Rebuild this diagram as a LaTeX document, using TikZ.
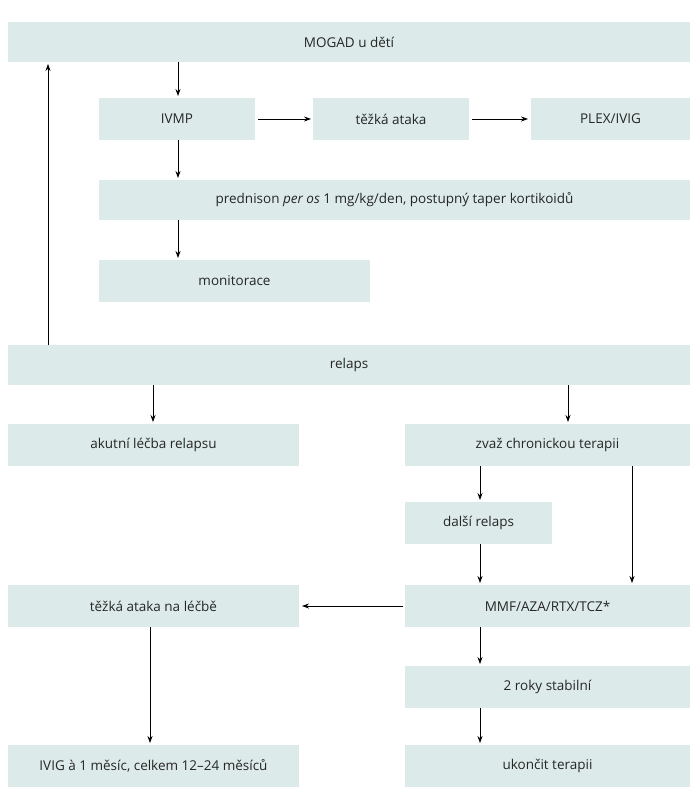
\documentclass[tikz,border=0pt]{standalone}
\usepackage{fontspec}
\setmainfont{Open Sans}
\usetikzlibrary{arrows.meta}
\definecolor{boxc}{HTML}{DCEBEA}
\tikzset{
  bx/.style={fill=boxc,draw=none,inner sep=0pt,font=\fontsize{13.5}{16}\selectfont\color{black!85}},
  ar/.style={-{Stealth[length=7pt,width=5pt]},line width=0.8pt}
}
\newcommand{\bxn}[6]{\node[bx,minimum width={#4-#2},minimum height={#5-#3}] (#1) at ({(#2+#4)/2},{(#3+#5)/2}) {#6};}
\begin{document}
\begin{tikzpicture}[x=1pt,y=-1pt]
\useasboundingbox (0,0) rectangle (698,800);
\bxn{mog}{8}{22}{690}{62}{MOGAD u dětí}
\bxn{ivmp}{99}{98}{255}{140}{IVMP}
\bxn{ta}{313}{98}{469}{140}{těžká ataka}
\bxn{plex}{531}{98}{690}{140}{PLEX/IVIG}
\bxn{pred}{99}{180}{690}{220}{prednison \textit{per os} 1 mg/kg/den, postupný taper kortikoidů}
\bxn{mon}{99}{260}{370}{302}{monitorace}
\bxn{rel}{8}{345}{690}{385}{relaps}
\bxn{ak}{8}{424}{299}{466}{akutní léčba relapsu}
\bxn{zv}{405}{424}{690}{466}{zvaž chronickou terapii}
\bxn{dr}{405}{502}{552}{544}{další relaps}
\bxn{mmf}{405}{585}{690}{627}{MMF/AZA/RTX/TCZ*}
\bxn{tal}{8}{585}{299}{627}{těžká ataka na léčbě}
\bxn{st}{405}{666}{690}{708}{2 roky stabilní}
\bxn{ivig}{8}{745}{299}{787}{IVIG à 1 měsíc, celkem 12–24 měsíců}
\bxn{uk}{405}{745}{690}{787}{ukončit terapii}
\draw[ar] (178,62) -- (178,96);
\draw[ar] (258,119) -- (311,119);
\draw[ar] (472,119) -- (528,119);
\draw[ar] (178,140) -- (178,178);
\draw[ar] (178,220) -- (178,258);
\draw[ar] (48,345) -- (48,64);
\draw[ar] (153,385) -- (153,422);
\draw[ar] (568,385) -- (568,422);
\draw[ar] (480,466) -- (480,500);
\draw[ar] (632,466) -- (632,583);
\draw[ar] (480,544) -- (480,583);
\draw[ar] (403,606) -- (302,606);
\draw[ar] (150,627) -- (150,743);
\draw[ar] (480,627) -- (480,664);
\draw[ar] (480,708) -- (480,743);
\end{tikzpicture}
\end{document}
